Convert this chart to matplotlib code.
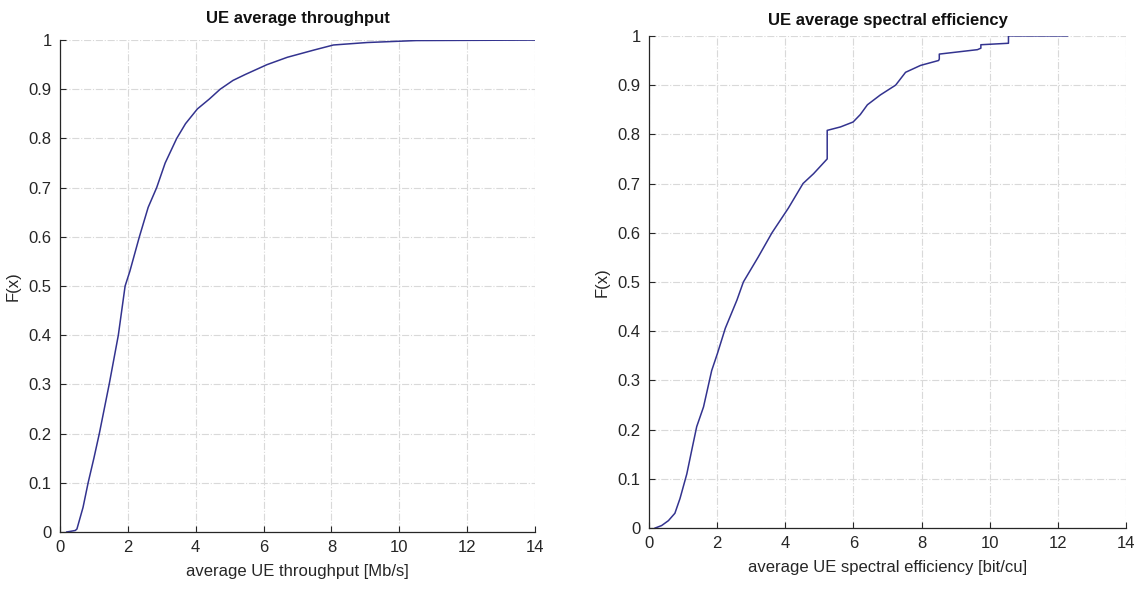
import matplotlib
matplotlib.use('Agg')
import matplotlib.pyplot as plt
from matplotlib import font_manager

# CDF of UE average throughput [Mb/s]
thr_x = [0.2, 0.45, 0.5, 0.68, 0.83, 1.0, 1.16, 1.45, 1.72, 1.92, 2.06, 2.34, 2.6, 2.85,
         3.1, 3.44, 3.7, 4.05, 4.4, 4.72, 5.1, 5.46, 6.1, 6.7, 7.5, 8.06, 9.05, 10.5, 14.0]
thr_y = [0.0, 0.003, 0.006, 0.05, 0.1, 0.15, 0.2, 0.3, 0.4, 0.5, 0.53, 0.6, 0.66, 0.7,
         0.75, 0.8, 0.83, 0.86, 0.88, 0.9, 0.918, 0.93, 0.95, 0.965, 0.98, 0.99, 0.995, 0.999, 1.0]

# CDF of UE average spectral efficiency [bit/cu]
se_x = [0.18, 0.37, 0.57, 0.76, 0.91, 1.11, 1.26, 1.4, 1.6, 1.84, 2.01, 2.24, 2.58, 2.77,
        3.2, 3.61, 4.09, 4.52, 4.83, 5.23, 5.23, 5.62, 5.99, 6.2, 6.41, 6.79, 7.24, 7.53,
        7.97, 8.5, 8.52, 8.52, 9.64, 9.74, 9.74, 10.55, 10.55, 12.28]
se_y = [0.0, 0.005, 0.015, 0.03, 0.06, 0.11, 0.16, 0.206, 0.246, 0.32, 0.355, 0.406, 0.463, 0.5,
        0.55, 0.6, 0.65, 0.7, 0.72, 0.75, 0.808, 0.815, 0.825, 0.84, 0.86, 0.88, 0.9, 0.926,
        0.94, 0.95, 0.953, 0.963, 0.972, 0.975, 0.982, 0.985, 1.0, 1.0]

x_ticks = [0, 2, 4, 6, 8, 10, 12, 14]
y_ticks = [0, 0.1, 0.2, 0.3, 0.4, 0.5, 0.6, 0.7, 0.8, 0.9, 1]
y_labels = ['0', '0.1', '0.2', '0.3', '0.4', '0.5', '0.6', '0.7', '0.8', '0.9', '1']

names = {f.name for f in font_manager.fontManager.ttflist}
fam = 'Liberation Sans Narrow' if 'Liberation Sans Narrow' in names else 'Liberation Sans'
plt.rcParams['font.family'] = [fam, 'DejaVu Sans']

fig = plt.figure(figsize=(11.42, 5.98), dpi=100)
ax1 = fig.add_axes([0.0525, 0.1104, 0.416, 0.8226])
ax2 = fig.add_axes([0.5683, 0.117, 0.4177, 0.823])

panels = [
    (ax1, thr_x, thr_y, 'UE average throughput', 'average UE throughput [Mb/s]', 12),
    (ax2, se_x, se_y, 'UE average spectral efficiency', 'average UE spectral efficiency [bit/cu]', 8),
]

for ax, xs, ys, title, xlabel, tpad in panels:
    ax.plot(xs, ys, color='#33338f', linewidth=1.1)
    ax.set_xlim(0, 14)
    ax.set_ylim(0, 1)
    ax.set_xticks(x_ticks)
    ax.set_yticks(y_ticks)
    ax.set_yticklabels(y_labels)
    ax.grid(True, color='#d9d9d9', linestyle='-.', linewidth=0.8)
    ax.set_axisbelow(True)
    for s in ['top', 'right']:
        ax.spines[s].set_visible(False)
    for s in ['left', 'bottom']:
        ax.spines[s].set_color('#262626')
        ax.spines[s].set_linewidth(0.9)
    ax.tick_params(direction='in', length=4, colors='#262626', labelsize=12, pad=6)
    ax.set_title(title, fontsize=12, fontweight='bold', color='#111111', pad=tpad)
    ax.set_xlabel(xlabel, fontsize=12, color='#262626', labelpad=6)
    ax.set_ylabel('F(x)', fontsize=12, color='#262626', labelpad=6)

fig.savefig('out.png', dpi=100)
